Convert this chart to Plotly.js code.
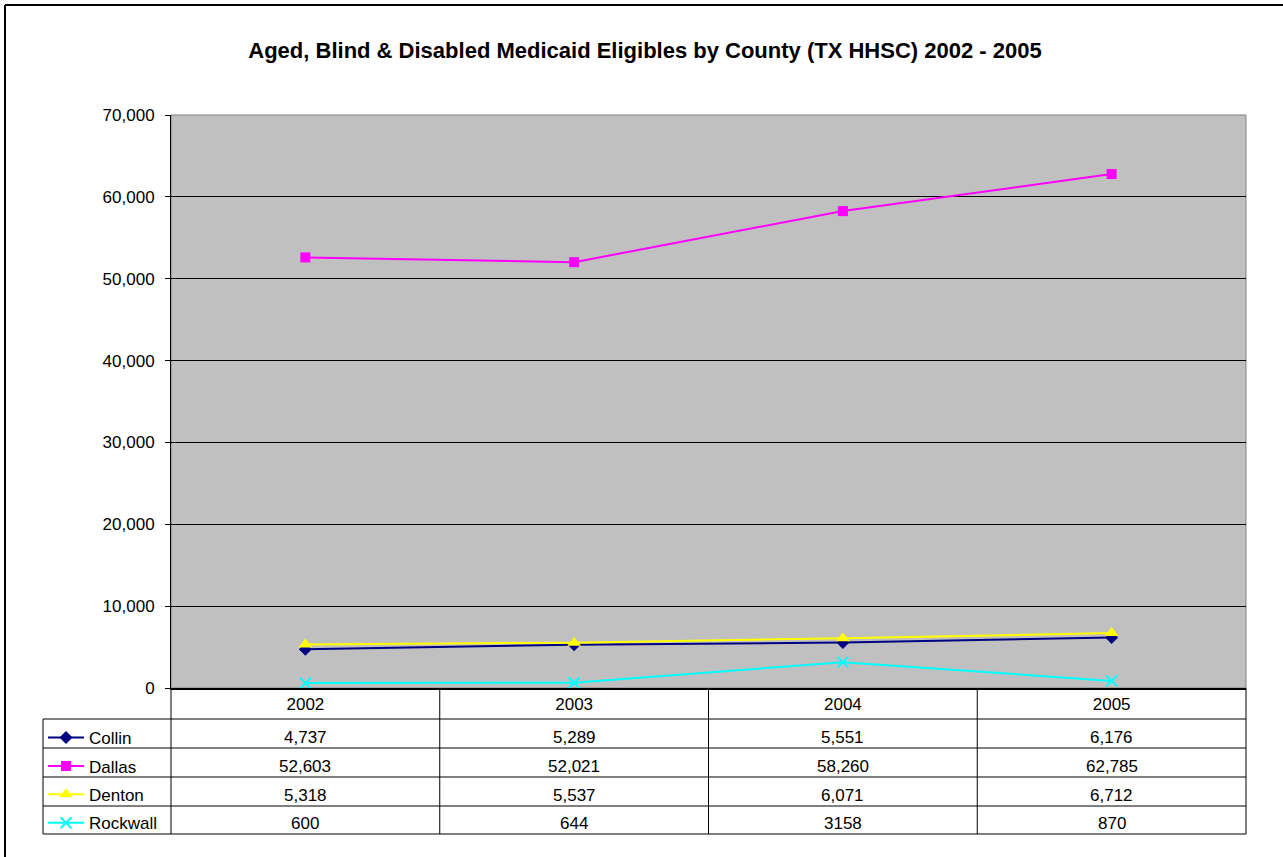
<!DOCTYPE html>
<html>
<head>
<meta charset="utf-8">
<script src="https://cdn.plot.ly/plotly-3.0.1.min.js"></script>
<style>html,body{margin:0;padding:0;background:#fff;}#chart{width:1283px;height:857px;}</style>
</head>
<body>
<div id="chart"></div>
<script>
var years = ['2002', '2003', '2004', '2005'];
var seriesNames = ['Collin', 'Dallas', 'Denton', 'Rockwall'];
var collin = [4737, 5289, 5551, 6176];
var dallas = [52603, 52021, 58260, 62785];
var denton = [5318, 5537, 6071, 6712];
var rockwall = [600, 644, 3158, 870];
var useThousands = [true, true, true, false];
var yTicks = [0, 10000, 20000, 30000, 40000, 50000, 60000, 70000];

var values = [collin, dallas, denton, rockwall];
var colors = ['#000080', '#FF00FF', '#FFFF00', '#00FFFF'];
var symbols = ['diamond', 'square', 'triangle-up', 'x-thin-open'];
var sizes = [10, 10, 12, 11];

var FONT = 'Liberation Sans, Arial, sans-serif';
var L = 171, R = 1246, T = 115, B = 688;
var PH = B - T;
function py(p) { return (B - p) / PH; }         // pixel y -> paper y
function px(p) { return (p - L) / (R - L); }    // pixel x -> paper x

var traces = values.map(function (v, i) {
  return {
    type: 'scatter', mode: 'lines+markers',
    x: years, y: v, name: seriesNames[i], legendgroup: seriesNames[i],
    line: {color: colors[i], width: 2},
    marker: {symbol: symbols[i], color: colors[i], size: sizes[i],
             line: {color: colors[i], width: i === 3 ? 2 : 0}},
    hoverinfo: 'x+y+name'
  };
});

var rowLines = [688, 719, 748, 777, 806, 834];
var shapes = [];
shapes.push({type: 'rect', xref: 'paper', yref: 'paper', x0: 0, x1: 1, y0: 0, y1: 1,
  line: {color: '#808080', width: 1}, layer: 'between'});
shapes.push({type: 'line', xref: 'paper', yref: 'paper', x0: px(5), x1: px(1290), y0: py(5), y1: py(5),
  line: {color: '#000', width: 2}});
shapes.push({type: 'line', xref: 'paper', yref: 'paper', x0: px(5), x1: px(5), y0: py(5), y1: py(870),
  line: {color: '#000', width: 2}});
rowLines.forEach(function (r, k) {
  if (k === 0) return;
  shapes.push({type: 'line', xref: 'paper', yref: 'paper',
    x0: px(43), x1: 1, y0: py(r), y1: py(r),
    line: {color: '#000', width: 1}});
});
for (var c = 0; c <= years.length; c++) {
  shapes.push({type: 'line', xref: 'paper', yref: 'paper', x0: c / years.length, x1: c / years.length,
    y0: 0, y1: py(834), line: {color: '#000', width: 1}});
}
shapes.push({type: 'line', xref: 'paper', yref: 'paper', x0: px(43), x1: px(43), y0: py(719), y1: py(834),
  line: {color: '#000', width: 1}});

var annotations = [];
values.forEach(function (v, i) {
  var yc = (rowLines[i + 1] + rowLines[i + 2]) / 2 + 3.5;
  v.forEach(function (val, j) {
    annotations.push({xref: 'paper', yref: 'paper', x: (j + 0.5) / years.length, y: py(yc),
      xanchor: 'center', yanchor: 'middle',
      text: useThousands[i] ? val.toLocaleString('en-US') : String(val),
      showarrow: false, font: {family: FONT, size: 17, color: '#000'}});
  });
});

var layout = {
  width: 1283, height: 857,
  margin: {l: L, r: 1283 - R, t: T, b: 857 - B, pad: 0},
  paper_bgcolor: '#ffffff', plot_bgcolor: '#C0C0C0',
  font: {family: FONT, size: 17, color: '#000'},
  title: {text: '<b>Aged, Blind &amp; Disabled Medicaid Eligibles by County (TX HHSC) 2002 - 2005</b>',
    font: {family: FONT, size: 22, color: '#000'},
    xref: 'container', x: 645 / 1283, xanchor: 'center',
    yref: 'container', y: 1 - 50 / 857, yanchor: 'middle'},
  xaxis: {type: 'category', range: [-0.5, 3.5], showgrid: false, zeroline: false,
    showline: true, linecolor: '#000', linewidth: 2, ticks: '',
    tickfont: {family: FONT, size: 17, color: '#000'}, fixedrange: true},
  yaxis: {range: [0, 70000], tickvals: yTicks, tickformat: ',d', showgrid: true,
    gridcolor: '#000', gridwidth: 1, zeroline: false, showline: true, linecolor: '#000',
    linewidth: 1, ticks: 'outside', ticklen: 5, tickcolor: '#000', tickwidth: 1,
    ticklabelstandoff: 7,
    tickfont: {family: FONT, size: 17, color: '#000'}, fixedrange: true},
  showlegend: true,
  legend: {x: px(43), xanchor: 'left', y: py(720), yanchor: 'top', bgcolor: 'rgba(0,0,0,0)',
    borderwidth: 0, tracegroupgap: 3.3, itemwidth: 36, font: {family: FONT, size: 17, color: '#000'},
    itemclick: false, itemdoubleclick: false},
  shapes: shapes,
  annotations: annotations
};

Plotly.newPlot('chart', traces, layout, {displayModeBar: false});
</script>
</body>
</html>
